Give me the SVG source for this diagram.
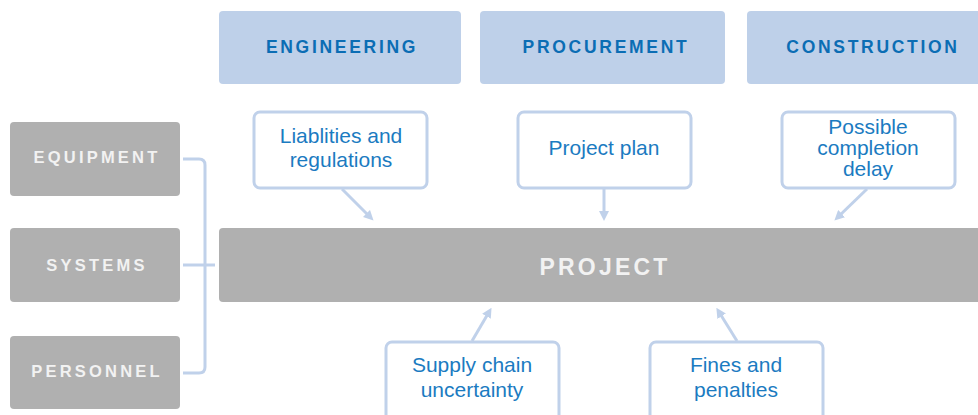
<svg xmlns="http://www.w3.org/2000/svg" width="978" height="415" viewBox="0 0 978 415">
<style>
.phase{fill:#bed0e9}
.grey{fill:#b0b0b0}
.ph{font-family:"Liberation Sans",Arial,sans-serif;font-weight:bold;font-size:17.5px;letter-spacing:2.7px;fill:#0b6db4;text-anchor:middle}
.gt{font-family:"Liberation Sans",Arial,sans-serif;font-weight:bold;font-size:16.5px;letter-spacing:3.2px;fill:#f2f2f2;text-anchor:middle}
.pt{font-family:"Liberation Sans",Arial,sans-serif;font-weight:bold;font-size:23px;letter-spacing:3.2px;fill:#f2f2f2;text-anchor:middle}
.call{fill:#fff;stroke:#c0d1ea;stroke-width:3}
.ct{font-family:"Liberation Sans",Arial,sans-serif;font-size:21px;fill:#1b7bc1;text-anchor:middle}
.con{fill:none;stroke:#c0d1ea;stroke-width:3}
</style>
<defs>
<marker id="ah" markerWidth="10" markerHeight="10" refX="5" refY="5" orient="auto" markerUnits="userSpaceOnUse" viewBox="0 0 10 10">
<path d="M0,0 L10,5 L0,10 z" fill="#c0d1ea"/>
</marker>
</defs>
<g id="engineering"><rect class="phase" x="219" y="11" width="242" height="73" rx="4"/><text class="ph" x="342" y="53">ENGINEERING</text></g>
<g id="procurement"><rect class="phase" x="480" y="11" width="245" height="73" rx="4"/><text class="ph" x="606" y="53">PROCUREMENT</text></g>
<g id="construction"><rect class="phase" x="747" y="11" width="240" height="73" rx="4"/><text class="ph" x="873" y="53">CONSTRUCTION</text></g>
<g id="equipment"><rect class="grey" x="10" y="122" width="170" height="74" rx="4"/><text class="gt" x="97" y="163">EQUIPMENT</text></g>
<g id="systems"><rect class="grey" x="10" y="228" width="170" height="74" rx="4"/><text class="gt" x="97" y="271">SYSTEMS</text></g>
<g id="personnel"><rect class="grey" x="10" y="336" width="170" height="73" rx="4"/><text class="gt" x="97" y="377">PERSONNEL</text></g>
<g id="project"><rect class="grey" x="219" y="228" width="770" height="74" rx="4"/><text class="pt" x="605" y="275">PROJECT</text></g>
<g id="liabilities"><rect class="call" x="254" y="112" width="173" height="76" rx="6"/><text class="ct" x="341" y="143">Liablities and</text><text class="ct" x="341" y="167">regulations</text></g>
<g id="projectplan"><rect class="call" x="518" y="112" width="173" height="76" rx="6"/><text class="ct" x="604" y="155">Project plan</text></g>
<g id="delay"><rect class="call" x="782" y="112" width="173" height="76" rx="6"/><text class="ct" x="868" y="134">Possible</text><text class="ct" x="868" y="155">completion</text><text class="ct" x="868" y="176">delay</text></g>
<g id="supply"><rect class="call" x="386" y="342" width="173" height="80" rx="6"/><text class="ct" x="472" y="372">Supply chain</text><text class="ct" x="472" y="397">uncertainty</text></g>
<g id="fines"><rect class="call" x="650" y="342" width="173" height="80" rx="6"/><text class="ct" x="736" y="372">Fines and</text><text class="ct" x="736" y="397">penalties</text></g>
<g id="connectors">
<path class="con" d="M183,159 H199 Q205,159 205,165 V367 Q205,373 199,373 H183"/>
<path class="con" d="M183,265 H215"/>
<line class="con" x1="342" y1="189" x2="370" y2="217" marker-end="url(#ah)"/>
<line class="con" x1="604" y1="189" x2="604" y2="216" marker-end="url(#ah)"/>
<line class="con" x1="867" y1="189" x2="838" y2="217" marker-end="url(#ah)"/>
<line class="con" x1="472" y1="341" x2="489" y2="312" marker-end="url(#ah)"/>
<line class="con" x1="737" y1="341" x2="719" y2="312" marker-end="url(#ah)"/>
</g>
</svg>
